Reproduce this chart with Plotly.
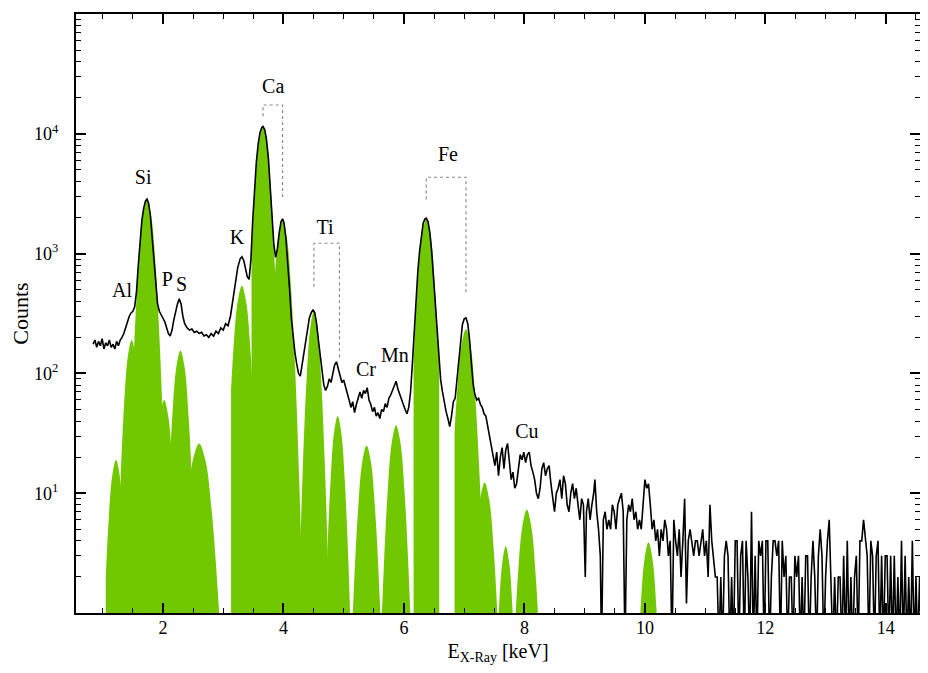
import plotly.graph_objects as go

# ---------------- measured spectrum (black line) ----------------
energy_kev = [
    0.84, 0.87, 0.90, 0.93, 0.96, 0.99, 1.02, 1.05, 1.08, 1.11,
    1.14, 1.17, 1.20, 1.23, 1.26, 1.29, 1.32, 1.35, 1.38, 1.41,
    1.44, 1.47, 1.50, 1.53, 1.56, 1.59, 1.62, 1.65, 1.68, 1.71,
    1.735, 1.76, 1.79, 1.82, 1.85, 1.88, 1.91, 1.94, 1.97, 2.00,
    2.03, 2.06, 2.09, 2.12, 2.15, 2.18, 2.21, 2.24, 2.27, 2.30,
    2.33, 2.36, 2.40, 2.44, 2.48, 2.52, 2.56, 2.60, 2.64, 2.68,
    2.72, 2.76, 2.80, 2.84, 2.88, 2.92, 2.96, 3.00, 3.04, 3.08,
    3.12, 3.16, 3.20, 3.24, 3.28, 3.31, 3.34, 3.37, 3.40, 3.43,
    3.46, 3.49, 3.52, 3.55, 3.58, 3.61, 3.64, 3.66, 3.69, 3.72,
    3.75, 3.78, 3.81, 3.84, 3.87, 3.90, 3.93, 3.96, 3.985, 4.01,
    4.04, 4.07, 4.10, 4.13, 4.16, 4.19, 4.22, 4.25, 4.28, 4.31,
    4.34, 4.37, 4.40, 4.43, 4.46, 4.49, 4.52, 4.55, 4.58, 4.61,
    4.64, 4.67, 4.70, 4.73, 4.76, 4.79, 4.82, 4.85, 4.88, 4.91,
    4.94, 4.97, 5.00, 5.03, 5.06, 5.09, 5.12, 5.15, 5.18, 5.21,
    5.24, 5.27, 5.30, 5.33, 5.36, 5.39, 5.42, 5.45, 5.48, 5.51,
    5.54, 5.57, 5.60, 5.63, 5.66, 5.69, 5.72, 5.75, 5.78, 5.81,
    5.84, 5.87, 5.90, 5.93, 5.96, 5.99, 6.02, 6.05, 6.08, 6.11,
    6.14, 6.17, 6.20, 6.23, 6.26, 6.29, 6.32, 6.35, 6.37, 6.40,
    6.43, 6.46, 6.49, 6.52, 6.55, 6.58, 6.61, 6.64, 6.67, 6.70,
    6.73, 6.76, 6.79, 6.82, 6.85, 6.88, 6.91, 6.94, 6.97, 7.00,
    7.03, 7.06, 7.09, 7.12, 7.15, 7.18, 7.21, 7.24, 7.27, 7.30,
    7.33, 7.36, 7.39, 7.42, 7.45, 7.48, 7.51, 7.54, 7.57, 7.60,
    7.63, 7.66, 7.69, 7.72, 7.75, 7.78, 7.81, 7.84, 7.87, 7.90,
    7.93, 7.96, 7.99, 8.02, 8.05, 8.08, 8.11, 8.14, 8.17, 8.20,
    8.23, 8.26, 8.29, 8.32, 8.35, 8.38, 8.41, 8.44, 8.47, 8.50,
    8.53, 8.56, 8.59, 8.62, 8.65, 8.68, 8.71, 8.74, 8.77, 8.80,
    8.83, 8.86, 8.89, 8.92, 8.95, 8.98, 9.01, 9.03, 9.06, 9.09,
    9.12, 9.15, 9.17, 9.20, 9.23, 9.26, 9.28, 9.31, 9.34, 9.37,
    9.40, 9.43, 9.46, 9.49, 9.52, 9.55, 9.58, 9.61, 9.64, 9.67,
    9.70, 9.73, 9.76, 9.79, 9.82, 9.85, 9.88, 9.91, 9.94, 9.97,
    10.00, 10.03, 10.06, 10.09, 10.12, 10.15, 10.18, 10.21, 10.24, 10.27,
    10.30, 10.33, 10.36, 10.39, 10.42, 10.45, 10.48, 10.51, 10.54, 10.57,
    10.60, 10.63, 10.66, 10.69, 10.72, 10.75, 10.78, 10.81, 10.84, 10.87,
    10.90, 10.93, 10.96, 10.99, 11.02, 11.05, 11.08, 11.11, 11.14, 11.17,
    11.20, 11.23, 11.26, 11.29, 11.32, 11.35, 11.38, 11.41, 11.44, 11.47,
    11.50, 11.53, 11.56, 11.59, 11.62, 11.65, 11.68, 11.71, 11.74, 11.77,
    11.80, 11.83, 11.86, 11.89, 11.92, 11.95, 11.98, 12.01, 12.04, 12.07,
    12.10, 12.13, 12.16, 12.19, 12.22, 12.25, 12.28, 12.31, 12.34, 12.37,
    12.40, 12.43, 12.46, 12.49, 12.52, 12.55, 12.58, 12.61, 12.64, 12.67,
    12.70, 12.73, 12.76, 12.79, 12.82, 12.85, 12.88, 12.91, 12.94, 12.97,
    13.00, 13.03, 13.06, 13.09, 13.12, 13.15, 13.18, 13.21, 13.24, 13.27,
    13.30, 13.33, 13.36, 13.39, 13.42, 13.45, 13.48, 13.51, 13.54, 13.57,
    13.60, 13.63, 13.66, 13.69, 13.72, 13.75, 13.78, 13.81, 13.84, 13.87,
    13.90, 13.93, 13.96, 13.99, 14.02, 14.05, 14.08, 14.11, 14.14, 14.17,
    14.20, 14.23, 14.26, 14.29, 14.32, 14.35, 14.38, 14.41, 14.44, 14.47,
    14.50, 14.53, 14.56, 14.59, 14.62, 14.65, 14.68, 14.71,
]
counts = [
    175, 190, 165, 185, 170, 195, 160, 180, 170, 190,
    165, 175, 160, 185, 170, 190, 200, 215, 240, 270,
    300, 320, 330, 360, 480, 800, 1300, 1900, 2400, 2750,
    2850, 2650, 2100, 1400, 900, 560, 380, 330, 310, 290,
    270, 240, 215, 205, 230, 280, 330, 380, 420, 380,
    300, 260, 240, 230, 235, 220, 225, 215, 220, 205,
    210, 200, 215, 205, 225, 215, 240, 230, 260, 250,
    300, 400, 560, 760, 900, 940, 880, 740, 640, 610,
    900, 1900, 3600, 5800, 8200, 10200, 11300, 11500, 10800, 8800,
    6200, 3800, 2100, 1200, 930, 1100, 1500, 1850, 1950, 1800,
    1350, 880, 520, 290, 200, 150, 120, 100, 95, 120,
    150, 190, 240, 290, 320, 340, 320, 260, 190, 140,
    100, 80, 72, 78, 90, 84, 100, 118, 125, 110,
    95, 84, 88, 75, 68, 60, 52, 58, 47, 55,
    64, 70, 62, 72, 68, 76, 60, 55, 48, 52,
    44, 47, 42, 50, 48, 56, 52, 62, 66, 72,
    80, 86, 74, 66, 60, 55, 50, 46, 52, 70,
    120, 230, 420, 700, 1050, 1450, 1800, 1950, 1980, 1850,
    1500, 1050, 640, 380, 220, 130, 88, 70, 56, 48,
    42, 36, 44, 58, 62, 90, 140, 200, 255, 285,
    290, 260, 190, 120, 80, 66, 60, 62, 55, 52,
    46, 44, 36, 30, 24, 21, 17, 22, 14, 20,
    24, 16, 23, 26, 19, 13, 15, 11, 12, 17,
    21, 19, 22, 18, 21, 22, 17, 15, 13, 10,
    9, 11, 16, 18, 14, 16, 17, 12, 9, 7,
    10, 11, 13, 9, 14, 12, 8, 7, 10, 12,
    9, 11, 8, 6, 9, 8, 2, 7, 9, 6,
    8, 10, 13, 7, 5, 3, 0.5, 6, 7, 5,
    6, 5, 8, 7, 5, 8, 9, 10, 7, 0.5,
    6, 8, 7, 9, 6, 7, 5, 6, 5, 9,
    13, 11, 12, 8, 5, 6, 4, 5, 3, 5,
    4, 6, 5, 3, 4, 0.5, 6, 4, 3, 5,
    2, 4, 9, 1.2, 4, 5, 4, 3, 4, 4,
    3, 4, 5, 3, 4, 2, 8, 4, 3, 2,
    2, 0.5, 2, 0.5, 3, 4, 3, 0.5, 2, 0.5,
    4, 4, 0.5, 3, 4, 0.5, 4, 2, 0.5, 7,
    0.5, 3, 0.5, 4, 3, 4, 0.5, 4, 4, 0.5,
    2, 4, 4, 3, 4, 0.5, 4, 2, 3, 0.5,
    2, 2, 0.5, 3, 2, 3, 0.5, 2, 0.5, 3,
    3, 0.5, 2, 4, 2, 0.5, 3, 5, 3, 0.5,
    2, 4, 6, 2, 0.5, 2, 0.5, 2, 2, 0.5,
    3, 0.5, 4, 0.5, 2, 0.5, 2, 3, 0.5, 4,
    4, 6, 4, 3, 0.5, 4, 3, 0.5, 3, 4,
    0.5, 3, 0.5, 3, 3, 0.5, 3, 0.5, 3, 0.5,
    2, 0.5, 4, 0.5, 3, 0.5, 2, 0.5, 4, 0.5,
    2, 0.5, 2, 0.5, 2, 0.5, 2, 0.5,
]

# ---------------- fitted line components (green areas) ----------------
mg_x = [1.05, 1.092, 1.156, 1.22, 1.284, 1.348, 1.412, 1.476]
mg_y = [2.0, 5.3, 13.8, 19, 13.8, 5.3, 1.07, 0.11]
al_x = [1.30, 1.352, 1.416, 1.48, 1.544, 1.608, 1.70]
al_y = [15, 52.8, 138, 190, 138, 52.8, 4.3]
si_x = [1.447, 1.519, 1.591, 1.663, 1.735, 1.807, 1.879, 1.951, 2.023, 2.095]
si_y = [16.7, 157, 778, 2033, 2800, 2033, 778, 157, 16.7, 0.94]
p_x = [1.88, 1.952, 2.02, 2.088, 2.156, 2.224, 2.292]
p_y = [15.4, 43.6, 60, 43.6, 16.7, 3.4, 0.36]
s_x = [2.12, 2.154, 2.222, 2.29, 2.358, 2.426, 2.494, 2.562]
s_y = [21, 43, 113, 155, 113, 43, 8.7, 0.92]
cl_x = [2.40, 2.496, 2.60, 2.704, 2.808, 2.912, 3.016]
cl_y = [8.0, 18.9, 26, 18.9, 7.2, 1.46, 0.155]
k_x = [3.13, 3.166, 3.238, 3.31, 3.382, 3.454, 3.526, 3.58]
k_y = [73, 150, 392, 540, 392, 150, 30.3, 6.0]
caka_x = [3.47, 3.524, 3.592, 3.66, 3.728, 3.796, 3.864, 3.932]
caka_y = [935, 3170, 8280, 11400, 8280, 3170, 640, 68]
cakb_x = [3.80, 3.845, 3.915, 3.985, 4.055, 4.125, 4.195, 4.265, 4.335]
cakb_y = [210, 530, 1380, 1900, 1380, 530, 107, 11.4, 0.64]
tika_x = [4.205, 4.265, 4.325, 4.385, 4.445, 4.505, 4.565, 4.625, 4.685, 4.745, 4.805]
tika_y = [0.11, 1.97, 18.5, 91.7, 240, 330, 240, 91.7, 18.5, 1.97, 0.11]
tikb_x = [4.66, 4.72, 4.78, 4.84, 4.90, 4.96, 5.02, 5.08, 5.14]
tikb_y = [0.26, 2.47, 12.2, 31.9, 44, 31.9, 12.2, 2.47, 0.26]
cr_x = [5.092, 5.164, 5.236, 5.308, 5.38, 5.452, 5.524, 5.596, 5.668]
cr_y = [0.149, 1.40, 6.95, 18.2, 25, 18.2, 6.95, 1.40, 0.149]
mn_x = [5.59, 5.66, 5.73, 5.80, 5.87, 5.94, 6.01, 6.08, 6.15]
mn_y = [0.22, 2.08, 10.3, 26.9, 37, 26.9, 10.3, 2.08, 0.22]
feka_x = [6.16, 6.226, 6.298, 6.37, 6.442, 6.514, 6.586]
feka_y = [128, 542, 1416, 1950, 1416, 542, 109]
fekb_x = [6.84, 6.878, 6.954, 7.03, 7.106, 7.182, 7.258, 7.334]
fekb_y = [31.8, 65.3, 171, 235, 171, 65.3, 13.2, 1.4]
ni_x = [7.19, 7.265, 7.34, 7.415, 7.49, 7.565, 7.64]
ni_y = [3.4, 8.9, 12.3, 8.9, 3.4, 0.69, 0.073]
p77_x = [7.516, 7.574, 7.632, 7.69, 7.748, 7.806, 7.864]
p77_y = [0.2, 1.0, 2.61, 3.6, 2.61, 1.0, 0.2]
cu_x = [7.818, 7.892, 7.966, 8.04, 8.114, 8.188, 8.262]
cu_y = [0.41, 2.03, 5.3, 7.3, 5.3, 2.03, 0.41]
p10_x = [9.862, 9.928, 9.994, 10.06, 10.126, 10.192, 10.258]
p10_y = [0.22, 1.08, 2.83, 3.9, 2.83, 1.08, 0.22]

green_peaks = [
    (mg_x, mg_y), (al_x, al_y), (si_x, si_y), (p_x, p_y), (s_x, s_y),
    (cl_x, cl_y), (k_x, k_y), (caka_x, caka_y), (cakb_x, cakb_y),
    (tika_x, tika_y), (tikb_x, tikb_y), (cr_x, cr_y), (mn_x, mn_y),
    (feka_x, feka_y), (fekb_x, fekb_y), (ni_x, ni_y), (p77_x, p77_y),
    (cu_x, cu_y), (p10_x, p10_y),
]

# ---------------- element labels ----------------
label_text = ["Al", "Si", "P", "S", "K", "Ca", "Ti", "Cr", "Mn", "Fe", "Cu"]
label_x = [1.32, 1.67, 2.07, 2.31, 3.23, 3.83, 4.69, 5.37, 5.85, 6.73, 8.04]
label_y = [480, 4180, 585, 532, 1320, 24000, 1590, 104, 138, 6500, 32]

# ---------------- dotted brackets (Kalpha / Kbeta pairs) ----------------
ca_bracket_x = [3.66, 3.66, 3.985, 3.985]
ca_bracket_y = [14000, 17400, 17400, 2830]
ti_bracket_x = [4.505, 4.505, 4.93, 4.93]
ti_bracket_y = [530, 1220, 1220, 130]
fe_bracket_x = [6.37, 6.37, 7.03, 7.03]
fe_bracket_y = [2830, 4340, 4340, 474]

GREEN = "#72c800"
FONT = "Liberation Serif"

fig = go.Figure()

for px, py in green_peaks:
    fig.add_trace(go.Scatter(
        x=px, y=py, mode="lines", line=dict(width=0, color=GREEN, shape="spline"),
        fill="tozeroy", fillcolor=GREEN, hoverinfo="skip", showlegend=False,
    ))

fig.add_trace(go.Scatter(
    x=energy_kev, y=counts, mode="lines",
    line=dict(color="black", width=1.6), showlegend=False,
))

for bx, by in [(ca_bracket_x, ca_bracket_y), (ti_bracket_x, ti_bracket_y),
               (fe_bracket_x, fe_bracket_y)]:
    fig.add_trace(go.Scatter(
        x=bx, y=by, mode="lines",
        line=dict(color="#8a8a8a", width=1.2, dash="dot"),
        showlegend=False, hoverinfo="skip",
    ))

fig.add_trace(go.Scatter(
    x=label_x, y=label_y, mode="text", text=label_text,
    textposition="middle center",
    textfont=dict(family=FONT, size=20, color="black"),
    showlegend=False, hoverinfo="skip",
))

minor_y = [m * 10 ** e for e in range(0, 5) for m in range(2, 10)]

# The page body adds an 8 px margin, so the figure is sized to fit the window.
fig.update_layout(
    width=912, height=657,
    margin=dict(l=68, r=0, t=6, b=52),
    paper_bgcolor="white", plot_bgcolor="white",
    font=dict(family=FONT, size=18, color="black"),
    hovermode=False,
)
fig.update_xaxes(
    range=[0.556, 14.567], dtick=2, tick0=0, automargin=False,
    ticks="inside", ticklen=10, tickwidth=1.5, tickcolor="black",
    minor=dict(dtick=0.5, ticks="inside", ticklen=5, tickcolor="black", tickwidth=1),
    showline=True, linecolor="black", linewidth=2, mirror="ticks",
    showgrid=False, zeroline=False,
    tickfont=dict(family=FONT, size=18),
    ticklabelstandoff=-3,
    title=dict(text="E<sub>X-Ray</sub> [keV]", font=dict(family=FONT, size=20), standoff=8),
)
fig.update_yaxes(
    type="log", range=[0, 5], automargin=False,
    tickvals=[10, 100, 1000, 10000],
    ticktext=["10<sup>1</sup>", "10<sup>2</sup>", "10<sup>3</sup>", "10<sup>4</sup>"],
    ticks="inside", ticklen=10, tickwidth=1.5, tickcolor="black",
    minor=dict(tickvals=minor_y, ticks="inside", ticklen=5, tickcolor="black", tickwidth=1),
    showline=True, linecolor="black", linewidth=2, mirror="ticks",
    showgrid=False, zeroline=False,
    tickfont=dict(family=FONT, size=18),
    ticklabelstandoff=12,
    title=dict(text="Counts", font=dict(family=FONT, size=22), standoff=3),
)

fig.write_html("out.html")
